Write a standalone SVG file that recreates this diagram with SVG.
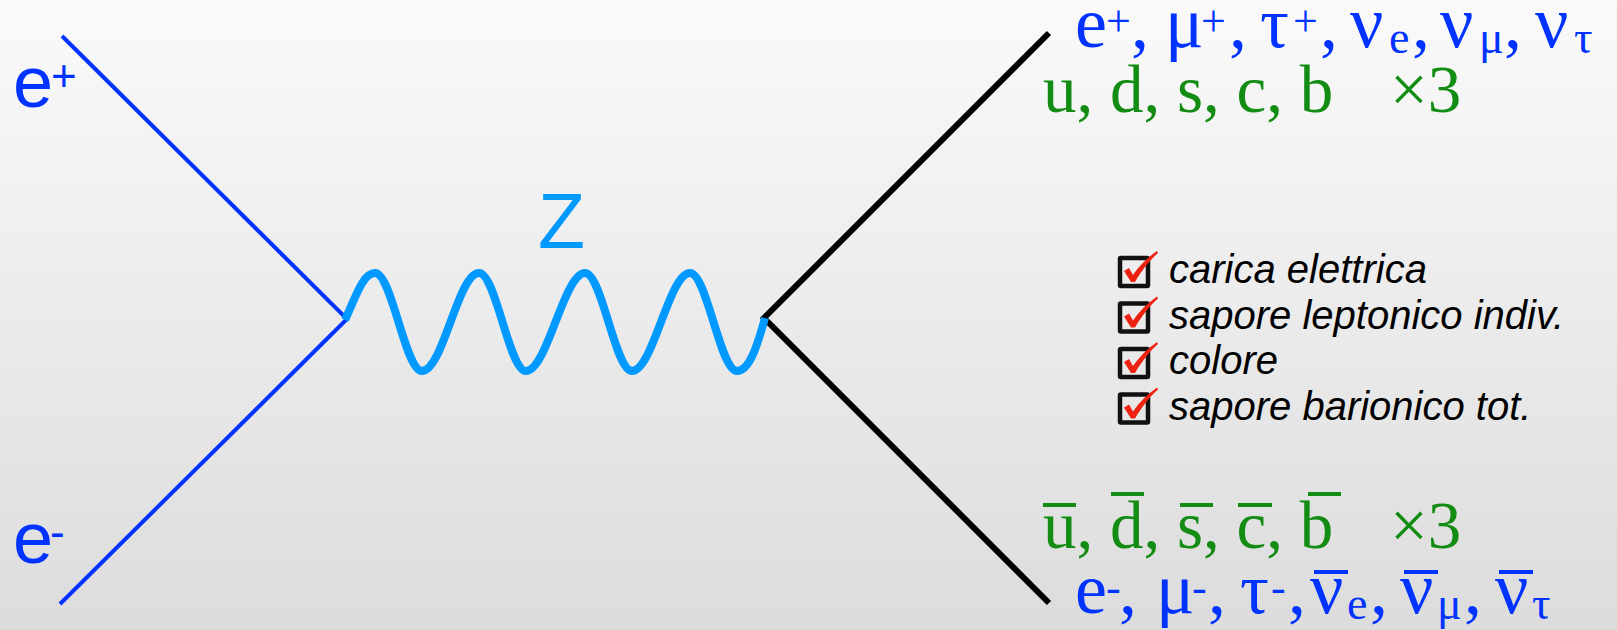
<svg xmlns="http://www.w3.org/2000/svg" width="1617" height="630" viewBox="0 0 1617 630">
<defs>
<linearGradient id="bg" x1="0" y1="0" x2="0" y2="1">
<stop offset="0" stop-color="#fafafa"/>
<stop offset="1" stop-color="#dcdcdc"/>
</linearGradient>
<style>
.sans{font-family:"Liberation Sans",Arial,sans-serif}
.serif{font-family:"Liberation Serif","Times New Roman",serif}
.blue{fill:#0033ff}
.lblue{fill:#0099ff}
.green{fill:#138c13}
.main{font-size:72px}
.nu{font-size:74px}
.sup{font-size:44px}
.sub{font-size:46px}
.gr{font-size:67px}
.lbl{font-size:72px}
.lsup{font-size:44px}
.chk{font-family:"Liberation Sans",Arial,sans-serif;font-style:italic;font-size:40px;fill:#000}
.box{fill:none;stroke:#111;stroke-width:4.5}
.tick{fill:#ee2211}
.fline{fill:none;stroke:#0033ff;stroke-width:4}
.qline{fill:none;stroke:#000;stroke-width:6;stroke-linejoin:miter}
.wave{fill:none;stroke:#0099ff;stroke-width:8;stroke-linecap:butt}
.gbar{fill:#138c13}
.bbar{fill:#0033ff}
</style>
<g id="cb">
<rect class="box" x="0" y="0" width="28" height="28" rx="1"/>
<path class="tick" d="M4,13 L9,10 L13,17 C19,8 27,0 37,-7 L38,-5 C30,2 22,12 15,24 L11,24 Z"/>
</g>
</defs>
<rect x="0" y="0" width="1617" height="630" fill="url(#bg)"/>

<g id="connectors">
<polyline class="fline" points="62,36 347,319 60,604"/>
<polyline class="qline" points="1049,33 764,318 1049,603"/>
<path class="wave" d="M345,320 C356,296 363,273 375,273 C392,273 405,371 422,371 C443,371 458,273 479,273 C496,273 509,371 526,371 C547,371 564,273 585,273 C602,273 615,371 632,371 C653,371 669,273 690,273 C707,273 720,371 737,371 C750,371 758,343 765,318"/>
</g>

<g id="label-eplus">
<text class="sans blue lbl" x="13" y="107">e</text>
<text class="sans blue lsup" x="51" y="91">+</text>
</g>

<g id="label-eminus">
<text class="sans blue lbl" x="13" y="563">e</text>
<text class="sans blue lsup" x="50" y="547">-</text>
</g>

<g id="label-z">
<text class="sans lblue" style="font-size:77px" x="538" y="248">Z</text>
</g>

<g id="top-products">
<text class="serif blue main" y="47"><tspan x="1075">e</tspan><tspan class="sup" x="1106" y="36">+</tspan><tspan x="1131" y="47">,</tspan><tspan x="1165" y="47">μ</tspan><tspan class="sup" x="1201" y="36">+</tspan><tspan x="1229" y="47">,</tspan><tspan x="1260" y="47">τ</tspan><tspan class="sup" x="1293" y="36">+</tspan><tspan x="1320" y="47">,</tspan><tspan class="nu" x="1350" y="47">ν</tspan><tspan class="sub" x="1389" y="53">e</tspan><tspan x="1412" y="47">,</tspan><tspan class="nu" x="1440" y="47">ν</tspan><tspan class="sub" x="1479" y="53">μ</tspan><tspan x="1504" y="47">,</tspan><tspan class="nu" x="1535" y="47">ν</tspan><tspan class="sub" x="1574" y="53">τ</tspan></text>
<text class="serif green gr" x="1043" y="112">u, d, s, c, b</text>
<text class="serif green gr" x="1390" y="112">×3</text>
</g>

<g id="checklist">
<use href="#cb" x="1120" y="258"/>
<use href="#cb" x="1120" y="303.5"/>
<use href="#cb" x="1120" y="349"/>
<use href="#cb" x="1120" y="394.5"/>
<text class="chk" x="1169" y="283">carica elettrica</text>
<text class="chk" x="1169" y="328.5">sapore leptonico indiv.</text>
<text class="chk" x="1169" y="374">colore</text>
<text class="chk" x="1169" y="419.5">sapore barionico tot.</text>
</g>

<g id="bottom-products">
<text class="serif green gr" x="1043" y="548">u, d, s, c, b</text>
<text class="serif green gr" x="1390" y="548">×3</text>
<rect class="gbar" x="1043" y="503" width="33" height="4"/>
<rect class="gbar" x="1111" y="492" width="33" height="4"/>
<rect class="gbar" x="1180" y="503" width="33" height="4"/>
<rect class="gbar" x="1238" y="503" width="34" height="4"/>
<rect class="gbar" x="1308" y="492" width="33" height="4"/>
<text class="serif blue main" y="613"><tspan x="1075">e</tspan><tspan class="sup" x="1106" y="602">-</tspan><tspan x="1119" y="613">,</tspan><tspan x="1156" y="613">μ</tspan><tspan class="sup" x="1192" y="602">-</tspan><tspan x="1208" y="613">,</tspan><tspan x="1240" y="613">τ</tspan><tspan class="sup" x="1271" y="602">-</tspan><tspan x="1288" y="613">,</tspan><tspan class="nu" x="1310" y="613">ν</tspan><tspan class="sub" x="1347" y="619">e</tspan><tspan x="1370" y="613">,</tspan><tspan class="nu" x="1400" y="613">ν</tspan><tspan class="sub" x="1437" y="619">μ</tspan><tspan x="1464" y="613">,</tspan><tspan class="nu" x="1495" y="613">ν</tspan><tspan class="sub" x="1532" y="619">τ</tspan></text>
<rect class="bbar" x="1314" y="570" width="34" height="4"/>
<rect class="bbar" x="1404" y="570" width="34" height="4"/>
<rect class="bbar" x="1499" y="570" width="34" height="4"/>
</g>
</svg>
